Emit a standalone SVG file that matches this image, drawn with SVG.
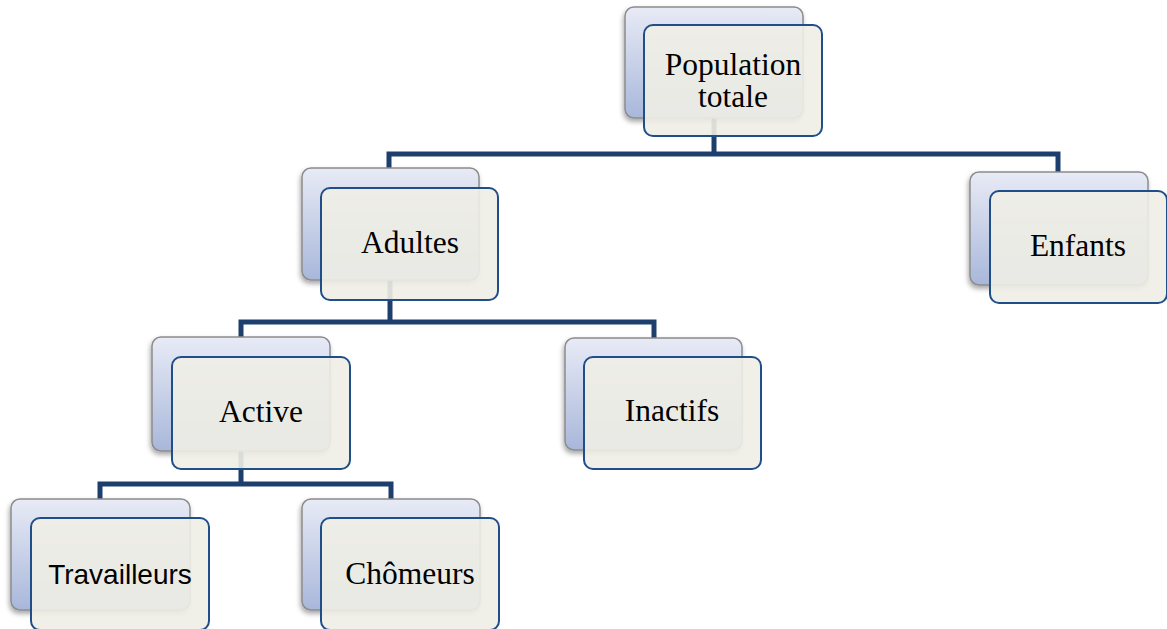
<svg xmlns="http://www.w3.org/2000/svg" width="1167" height="629" viewBox="0 0 1167 629">
<style>
.back{fill:url(#g);stroke:#8c8c8c;stroke-width:1.5;filter:url(#sh)}
.front{fill:#EFEEE5;fill-opacity:0.9;stroke:#1F4E89;stroke-width:2}
.t{font-family:"Liberation Serif","Times New Roman",serif;font-size:31.5px;fill:#000;text-anchor:middle}
.s{font-family:"Liberation Sans",Arial,sans-serif;font-size:28px;fill:#000;text-anchor:middle}
.c{fill:none;stroke:#1C3F6E;stroke-width:5;stroke-linejoin:miter}
</style>
<defs>
<linearGradient id="g" x1="0" y1="0" x2="0" y2="1">
<stop offset="0" stop-color="#E8EBF6"/>
<stop offset="1" stop-color="#A8B7DA"/>
</linearGradient>
<filter id="sh" x="-10%" y="-10%" width="125%" height="130%">
<feDropShadow dx="-1" dy="3" stdDeviation="2.5" flood-color="#000" flood-opacity="0.35"/>
</filter>
</defs>
<rect width="1167" height="629" fill="#fff"/>
<g id="connectors">
<path class="c" d="M714 118 V154 M389 170 V154 H1058 V172"/>
<path class="c" d="M390 280 V322 M241 337 V322 H654 V338"/>
<path class="c" d="M241 451 V484 M100 499 V484 H391 V499"/>
</g>
<g id="population">
<rect class="back" x="625" y="7" width="178" height="111" rx="9"/>
<rect class="front" x="644" y="25" width="178" height="111" rx="9"/>
<text class="t" x="733" y="75">Population</text>
<text class="t" x="733" y="107">totale</text>
</g>
<g id="adultes">
<rect class="back" x="302" y="168" width="177" height="112" rx="9"/>
<rect class="front" x="321" y="188" width="177" height="112" rx="9"/>
<text class="t" x="410" y="253">Adultes</text>
</g>
<g id="enfants">
<rect class="back" x="970" y="172" width="178" height="113" rx="9"/>
<rect class="front" x="990" y="191" width="177" height="112" rx="9"/>
<text class="t" x="1078" y="256">Enfants</text>
</g>
<g id="active">
<rect class="back" x="152" y="337" width="178" height="114" rx="9"/>
<rect class="front" x="172" y="357" width="178" height="112" rx="9"/>
<text class="t" x="261" y="422">Active</text>
</g>
<g id="inactifs">
<rect class="back" x="565" y="338" width="177" height="112" rx="9"/>
<rect class="front" x="584" y="357" width="177" height="112" rx="9"/>
<text class="t" x="672" y="421">Inactifs</text>
</g>
<g id="travailleurs">
<rect class="back" x="11" y="499" width="179" height="111" rx="9"/>
<rect class="front" x="31" y="518" width="178" height="112" rx="9"/>
<text class="s" x="120" y="584">Travailleurs</text>
</g>
<g id="chomeurs">
<rect class="back" x="302" y="499" width="178" height="111" rx="9"/>
<rect class="front" x="321" y="518" width="178" height="112" rx="9"/>
<text class="t" x="410" y="584">Chômeurs</text>
</g>
</svg>
